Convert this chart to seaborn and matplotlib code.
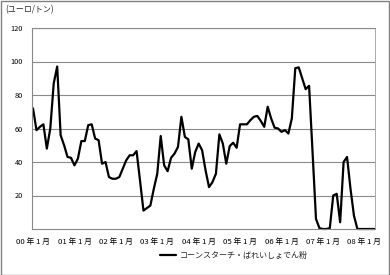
import numpy as np
import pandas as pd
import matplotlib
matplotlib.use("Agg")
import matplotlib.pyplot as plt
import seaborn as sns
from matplotlib.patches import Rectangle

# ---- data (monthly, 2000/01 .. 2008/04) ----
prices = [72, 59, 61, 62.5, 48, 60, 87, 97, 56, 50,
          43, 42.5, 38, 42, 52.5, 52.5, 62, 62.5, 54, 53,
          39, 40, 31, 30, 30, 31, 36, 41, 44, 44,
          46.5, 29, 11, 12.5, 14, 24, 33, 55.5, 38, 34.5,
          42.5, 45, 49, 67, 55, 53.5, 36, 46, 51, 47,
          35, 25, 28, 33, 56.5, 51, 39, 49.5, 51.5, 48.5,
          62.5, 62.5, 62.5, 65, 67, 67.5, 64.5, 61, 73, 66,
          60.5, 60, 58, 59, 57, 66, 96, 96.5, 90, 83.5,
          85.5, 46, 6, 0.5, 0, 0, 0.5, 20, 21, 4,
          40, 43, 24, 8, 0, 0, 0, 0, 0, 0]
tick_labels = ["00 年 1 月", "01 年 1 月", "02 年 1 月", "03 年 1 月", "04 年 1 月",
               "05 年 1 月", "06 年 1 月", "07 年 1 月", "08 年 1 月"]
y_ticks = [20, 40, 60, 80, 100, 120]
series_name = "コーンスターチ・ばれいしょでん粉"
unit_label = "(ユーロ/トン)"

df = pd.DataFrame({"month": np.arange(len(prices)), "price": prices})

sns.set_theme(style="white")
plt.rcParams['font.family'] = ['Noto Sans CJK JP', 'DejaVu Sans']

fig = plt.figure(figsize=(3.9, 2.75), dpi=100)
ax = fig.add_axes([32/390, 1-229/275, (375-32)/390, (229-28)/275])

sns.lineplot(data=df, x="month", y="price", ax=ax, color="black",
             linewidth=1.6, label=series_name, legend=False, clip_on=False)

ax.set_xlim(-0.3, 99.1)
ax.set_ylim(0, 120)
ax.set_yticks(y_ticks)
ax.set_yticklabels([str(v) for v in y_ticks], fontsize=5.3)
ax.set_xticks(np.arange(0, 12*len(tick_labels), 12))
ax.set_xticklabels(tick_labels, fontsize=5.6)
ax.set_xlabel("")
ax.set_ylabel("")
ax.yaxis.grid(True, color="#8a8a8a", linewidth=0.8)
ax.xaxis.grid(False)
ax.set_axisbelow(True)
ax.tick_params(axis="y", length=2.5, width=0.7, color="#888888", pad=4, colors="black")
ax.tick_params(axis="x", length=2.5, width=0.7, color="#888888", pad=4, colors="black")
for s in ["left", "bottom"]:
    ax.spines[s].set_color("#888888")
    ax.spines[s].set_linewidth(0.8)
ax.spines["right"].set_color("#aaaaaa")
ax.spines["right"].set_linewidth(0.7)
ax.spines["top"].set_color("#8a8a8a")
ax.spines["top"].set_linewidth(0.8)

fig.text(5/390, 1-10/275, unit_label, fontsize=5.8, va="center", ha="left")

handles, labels = ax.get_legend_handles_labels()
fig.legend(handles, labels, loc="center left", bbox_to_anchor=(160/390, 1-255/275),
           frameon=False, fontsize=5.8, handlelength=2.0, handletextpad=0.5,
           borderaxespad=0, borderpad=0)

fig.patches.append(Rectangle((0.5/390, 0.5/275), 388.5/390, 273.5/275,
                             transform=fig.transFigure, fill=False,
                             edgecolor="#808080", linewidth=1.0))

fig.savefig("out.png", dpi=100)
